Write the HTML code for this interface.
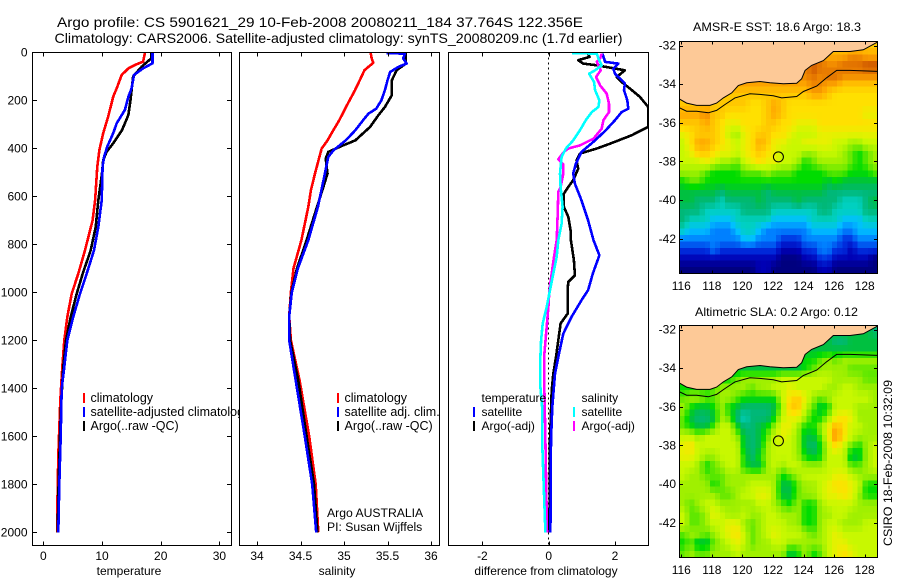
<!DOCTYPE html>
<html>
<head>
<meta charset="utf-8">
<title>Argo profile chart</title>
<style>
html,body{margin:0;padding:0;background:#fff;}
svg{display:block;}
text{font-family:"Liberation Sans",sans-serif;font-size:12px;fill:#000;}
text.lg{font-size:12.5px;}
text.note{font-size:12.2px;}
.frame{fill:none;stroke:#000;stroke-width:1;shape-rendering:crispEdges;}
.bar{shape-rendering:crispEdges;}
</style>
</head>
<body>
<svg id="chart" width="900" height="580" viewBox="0 0 900 580" xmlns="http://www.w3.org/2000/svg">
<defs>
<clipPath id="clip-temp"><rect x="32.5" y="52.5" width="199" height="493"/></clipPath>
<clipPath id="clip-sal"><rect x="239.5" y="52.5" width="200" height="493"/></clipPath>
<clipPath id="clip-diff"><rect x="448.5" y="52.5" width="200" height="493"/></clipPath>
<clipPath id="clip-sst"><rect x="679.5" y="41.5" width="198" height="232"/></clipPath>
<clipPath id="clip-sla"><rect x="679.5" y="325.5" width="198" height="232"/></clipPath>
</defs>
<rect x="0" y="0" width="900" height="580" fill="#fff"/>
<text x="57" y="27" style="font-size:14px" textLength="526" lengthAdjust="spacingAndGlyphs">Argo profile: CS 5901621_29 10-Feb-2008 20080211_184 37.764S 122.356E</text>
<text x="54.5" y="43" style="font-size:14px" textLength="568" lengthAdjust="spacingAndGlyphs">Climatology: CARS2006. Satellite-adjusted climatology: synTS_20080209.nc (1.7d earlier)</text>

<g id="panel-temp">
<rect x="32.5" y="52.5" width="199" height="493" fill="#fff"/>
<g id="temp-plot" clip-path="url(#clip-temp)"></g>
<g id="temp-axes"></g>
<rect class="frame" x="32.5" y="52.5" width="199" height="493"/>
<text x="129" y="575" text-anchor="middle">temperature</text>
<rect class="bar" x="83" y="393" width="2" height="10" fill="#ff0000"/>
<text class="lg" x="90.5" y="402">climatology</text>
<rect class="bar" x="83" y="407" width="2" height="10" fill="#0000ff"/>
<text class="lg" x="90.5" y="416">satellite-adjusted climatology</text>
<rect class="bar" x="83" y="421" width="2" height="10" fill="#000"/>
<text class="lg" x="90.5" y="430">Argo(..raw -QC)</text>
</g>

<g id="panel-sal">
<rect x="239.5" y="52.5" width="200" height="493" fill="#fff"/>
<g id="sal-plot" clip-path="url(#clip-sal)"></g>
<g id="sal-axes"></g>
<rect class="frame" x="239.5" y="52.5" width="200" height="493"/>
<text x="337" y="575" text-anchor="middle">salinity</text>
<rect class="bar" x="337" y="393" width="2" height="10" fill="#ff0000"/>
<text class="lg" x="344.5" y="402">climatology</text>
<rect class="bar" x="337" y="407" width="2" height="10" fill="#0000ff"/>
<text class="lg" x="344.5" y="416">satellite adj. clim.</text>
<rect class="bar" x="337" y="421" width="2" height="10" fill="#000"/>
<text class="lg" x="344.5" y="430">Argo(..raw -QC)</text>
<text class="note" x="327" y="517">Argo AUSTRALIA</text>
<text class="note" x="327" y="531">PI: Susan Wijffels</text>
</g>

<g id="panel-diff">
<rect x="448.5" y="52.5" width="200" height="493" fill="#fff"/>
<g id="diff-plot" clip-path="url(#clip-diff)"></g>
<g id="diff-axes"></g>
<rect class="frame" x="448.5" y="52.5" width="200" height="493"/>
<text x="546" y="575" text-anchor="middle">difference from climatology</text>
<text x="481.5" y="402">temperature</text>
<rect class="bar" x="473" y="407" width="2" height="10" fill="#0000ff"/>
<text x="481.5" y="416">satellite</text>
<rect class="bar" x="473" y="421" width="2" height="10" fill="#000"/>
<text x="481.5" y="430">Argo(-adj)</text>
<text x="581.5" y="402">salinity</text>
<rect class="bar" x="573" y="407" width="2" height="10" fill="#00ffff"/>
<text x="581.5" y="416">satellite</text>
<rect class="bar" x="573" y="421" width="2" height="10" fill="#ff00ff"/>
<text x="581.5" y="430">Argo(-adj)</text>
</g>

<text x="693" y="31" textLength="168" lengthAdjust="spacingAndGlyphs">AMSR-E SST: 18.6 Argo: 18.3</text>
<g id="map-sst"></g>
<text x="695" y="316" textLength="163" lengthAdjust="spacingAndGlyphs">Altimetric SLA: 0.2 Argo: 0.12</text>
<g id="map-sla"></g>
<text transform="translate(892,546) rotate(-90)" textLength="166" lengthAdjust="spacingAndGlyphs">CSIRO 18-Feb-2008 10:32:09</text>
</svg>

<script>
// ---------- Chart data ----------
const depthTicks = [0, 200, 400, 600, 800, 1000, 1200, 1400, 1600, 1800, 2000];
const tempTicks = [0, 10, 20, 30];
const salTicks = [34, 34.5, 35, 35.5, 36];
const salTickLabels = ['34', '34.5', '35', '35.5', '36'];
const diffTicks = [-2, 0, 2];
const lonTicks = [116, 118, 120, 122, 124, 126, 128];
const latTicks = [-32, -34, -36, -38, -40, -42];

const tempClimDepth = [3, 39, 53, 67, 94, 150, 185, 268, 337, 407, 476, 617, 700, 825, 922, 1006, 1103, 1200, 1311, 1450, 1680, 1900, 2000];
const tempClimValue = [17.3, 17.0, 15.6, 14.5, 13.35, 12.5, 11.9, 11.05, 10.2, 9.55, 9.2, 8.82, 8.4, 7.1, 5.97, 4.84, 4.09, 3.58, 3.24, 2.9, 2.56, 2.39, 2.4];
const tempArgoDepth = [3, 25, 60, 101, 199, 261, 296, 324, 379, 414, 449, 504, 617, 728, 825, 922, 1006, 1103, 1200, 1311, 1450, 1600, 1800, 2000];
const tempArgoValue = [18.4, 18.4, 16.75, 15.3, 14.85, 14.5, 13.9, 13.4, 11.9, 10.8, 10.2, 10.0, 9.37, 8.93, 8.07, 6.71, 5.69, 4.67, 3.87, 3.41, 3.07, 2.85, 2.6, 2.45];
const tempSatDepth = [3, 46, 67, 94, 150, 185, 240, 296, 337, 393, 435, 476, 617, 728, 825, 922, 1006, 1103, 1200, 1311, 1400, 1600, 1800, 2000];
const tempSatValue = [18.6, 18.6, 17.0, 15.45, 15.05, 14.5, 13.9, 12.5, 11.9, 10.9, 10.35, 10.1, 9.95, 9.37, 8.64, 7.39, 6.25, 5.1, 4.09, 3.58, 3.13, 2.96, 2.73, 2.56];

const salClimDepth = [3, 26, 44, 61, 75, 110, 158, 228, 283, 325, 367, 401, 436, 505, 575, 644, 783, 900, 1000, 1100, 1200, 1367, 1600, 1800, 2000];
const salClimValue = [35.307, 35.318, 35.337, 35.28, 35.234, 35.19, 35.126, 35.023, 34.946, 34.877, 34.81, 34.744, 34.717, 34.667, 34.62, 34.59, 34.51, 34.42, 34.39, 34.37, 34.39, 34.49, 34.6, 34.675, 34.705];
const salArgoDepth = [3, 47, 75, 117, 179, 228, 262, 311, 367, 388, 415, 443, 505, 575, 644, 783, 900, 1000, 1100, 1200, 1367, 1600, 1800, 2000];
const salArgoValue = [35.71, 35.71, 35.605, 35.55, 35.55, 35.47, 35.395, 35.30, 35.13, 34.99, 34.82, 34.79, 34.81, 34.75, 34.69, 34.57, 34.46, 34.395, 34.37, 34.38, 34.475, 34.57, 34.655, 34.695];
const salSatDepth = [3, 6, 26, 47, 61, 82, 117, 158, 200, 235, 256, 283, 325, 367, 408, 436, 470, 505, 575, 644, 783, 900, 1000, 1100, 1200, 1367, 1600, 1800, 2000];
const salSatValue = [35.49, 35.70, 35.68, 35.72, 35.625, 35.53, 35.50, 35.47, 35.43, 35.37, 35.28, 35.22, 35.13, 35.02, 34.88, 34.82, 34.80, 34.78, 34.74, 34.70, 34.59, 34.47, 34.40, 34.37, 34.37, 34.445, 34.55, 34.635, 34.68];

const diffTempArgoDepth = [6, 19, 33, 47, 54, 75, 103, 124, 151, 186, 228, 311, 346, 381, 401, 422, 450, 485, 533, 561, 589, 644, 686, 742, 783, 866, 929, 957, 991, 1089, 1130, 1200, 1269, 1339, 1408, 1616, 2000];
const diffTempArgoValue = [1.19, 1.23, 0.89, 1.04, 1.45, 2.30, 2.05, 2.20, 2.45, 2.75, 3.0, 3.0, 2.50, 1.85, 1.45, 0.94, 0.84, 0.89, 0.74, 0.59, 0.46, 0.46, 0.59, 0.66, 0.67, 0.76, 0.79, 0.59, 0.57, 0.57, 0.36, 0.29, 0.22, 0.14, 0.09, 0.04, 0.02];
const diffTempSatDepth = [6, 40, 47, 68, 89, 130, 158, 200, 235, 249, 283, 325, 367, 415, 464, 505, 547, 617, 700, 783, 846, 922, 991, 1033, 1102, 1172, 1269, 1339, 1477, 1616, 2000];
const diffTempSatValue = [1.62, 1.70, 2.10, 1.95, 2.0, 2.30, 2.27, 2.37, 2.40, 2.20, 2.0, 1.72, 1.40, 0.99, 0.82, 0.74, 0.79, 0.99, 1.19, 1.35, 1.53, 1.33, 1.19, 0.99, 0.69, 0.44, 0.29, 0.19, 0.11, 0.07, 0.05];
const diffSalSatDepth = [3, 6, 26, 54, 75, 89, 124, 158, 200, 228, 249, 283, 325, 367, 401, 436, 505, 561, 644, 714, 783, 852, 922, 991, 1061, 1130, 1200, 1269, 1394, 1477, 1616, 2000];
const diffSalSatValue = [0.71, 1.45, 1.50, 1.60, 1.40, 1.22, 1.37, 1.40, 1.53, 1.50, 1.30, 1.12, 0.94, 0.74, 0.52, 0.39, 0.34, 0.36, 0.42, 0.39, 0.29, 0.24, 0.14, 0.04, -0.06, -0.18, -0.23, -0.25, -0.25, -0.20, -0.20, -0.10];
const diffSalArgoDepth = [6, 26, 40, 75, 103, 138, 172, 214, 249, 283, 318, 360, 388, 401, 415, 446, 467, 505, 561, 582, 672, 783, 852, 922, 991, 1061, 1144, 1255, 1408, 1616, 2000];
const diffSalArgoValue = [1.60, 1.55, 1.45, 1.57, 1.43, 1.55, 1.75, 1.82, 1.82, 1.65, 1.60, 1.35, 0.94, 0.59, 0.46, 0.29, 0.44, 0.44, 0.36, 0.29, 0.27, 0.24, 0.16, 0.09, 0.02, -0.01, -0.06, -0.13, -0.13, -0.10, -0.05];

const coastLon = [115.7, 115.87, 116.35, 117.0, 117.88, 118.31, 118.75, 119.3, 119.73, 120.28, 121.15, 121.8, 122.68, 123.55, 123.88, 124.1, 124.53, 125.3, 125.95, 127.04, 127.91, 128.83, 129.1];
const coastLat = [-34.7, -34.76, -34.98, -35.1, -35.1, -34.98, -34.71, -34.45, -34.07, -33.93, -33.86, -33.93, -33.98, -33.95, -33.72, -33.29, -33.03, -32.78, -32.31, -32.31, -32.22, -31.83, -31.7];
const isobathLon = [115.87, 116.35, 117, 117.77, 118.31, 118.86, 119.51, 120.49, 121.15, 122.02, 122.57, 123.55, 123.99, 124.86, 125.51, 126.17, 127.04, 128.87];
const isobathLat = [-35.22, -35.4, -35.4, -35.48, -35.36, -35.05, -34.71, -34.5, -34.53, -34.6, -34.71, -34.64, -34.38, -34.1, -33.67, -33.29, -33.29, -33.34];
const profileLon = [122.356];
const profileLat = [-37.764];

// Colour scale levels, cool (0) to hot (18)
const heatColors = ['#00007f', '#0000b4', '#0030e0', '#0080ff', '#00c0ff', '#00d0c0', '#00b878', '#00c040', '#00dc00', '#60e800', '#a0f000', '#c8f800', '#e8f000', '#ffe000', '#ffc800', '#ffa800', '#f08800', '#e07000', '#c85000'];

const sstLevels = [
[14,14,14,14,14,14,14,14,14,14,14,14,14,14,14,14,14,14,14,14,14,14,14,14,14,14],
[15,15,15,15,15,15,15,15,15,15,15,15,15,15,15,15,15,15,15,15,15,15,16,16,15,15],
[16,16,16,16,16,16,16,16,16,16,16,16,16,16,16,16,16,18,17,16,16,17,17,17,18,18],
[16,16,16,16,16,16,16,16,16,16,16,16,16,16,16,16,16,17,16,17,17,16,16,16,16,16],
[15,15,15,15,15,15,15,15,15,15,15,15,15,15,15,15,15,16,16,15,15,14,14,14,14,14],
[14,14,14,14,14,14,14,14,14,14,14,14,14,14,14,14,14,15,15,14,13,13,13,13,13,13],
[14,14,14,14,14,14,14,14,14,13,13,14,15,14,13,13,13,13,13,13,13,13,13,13,13,13],
[15,15,15,16,14,14,13,13,13,13,13,14,15,14,13,13,13,13,13,13,13,13,13,13,12,12],
[14,14,14,15,14,13,12,12,13,13,13,14,14,13,13,12,12,12,13,13,13,13,13,13,13,13],
[12,13,14,14,14,13,11,10,12,13,14,14,13,13,12,11,11,11,12,12,12,12,12,12,12,12],
[11,13,15,15,14,13,12,11,12,13,15,14,12,12,11,11,12,12,12,12,11,11,10,10,11,11],
[11,12,14,14,13,12,12,11,12,13,14,13,12,11,11,11,10,10,11,11,11,10,9,8,9,10],
[11,11,11,12,11,10,10,9,11,12,13,12,12,11,11,10,8,9,10,10,10,10,9,8,9,10],
[10,10,10,9,8,8,8,8,9,9,9,10,9,9,9,8,8,8,8,9,9,9,8,8,8,9],
[8,9,9,8,8,8,8,8,8,8,8,8,8,8,8,8,8,8,8,7,8,7,7,7,7,7],
[7,7,7,7,7,6,7,7,7,7,7,6,7,7,7,7,7,7,7,6,6,6,6,6,6,6],
[7,7,6,6,6,5,6,6,6,6,7,6,6,6,6,7,6,6,6,6,6,5,5,5,6,7],
[6,6,6,5,5,5,5,5,6,6,6,6,5,5,5,5,5,5,6,6,5,5,5,5,6,6],
[6,5,5,5,4,4,4,5,5,5,5,5,4,4,4,4,4,5,5,5,5,4,4,4,5,5],
[5,4,4,4,3,3,3,4,5,5,4,3,3,3,3,3,3,4,4,4,4,3,3,4,4,4],
[3,3,3,3,3,3,3,3,4,4,3,3,3,2,2,2,3,3,3,3,3,2,2,3,3,3],
[2,2,2,2,3,2,2,2,2,2,2,2,2,1,1,1,2,2,3,3,2,2,1,2,2,2],
[1,1,1,1,1,1,1,1,1,1,1,1,1,0,0,0,1,1,2,2,1,1,1,1,1,0],
[0,0,0,0,0,0,0,0,0,0,1,1,0,0,0,0,0,0,1,1,0,0,0,0,0,0]
];

const slaLevels = [
[7,7,7,7,7,7,7,7,7,7,7,7,7,7,7,7,7,7,7,7,7,7,7,7,7,6],
[7,7,7,7,7,7,7,7,7,7,7,7,7,7,7,7,7,7,7,7,6,6,7,7,7,7],
[7,7,7,7,7,7,7,7,7,7,7,7,7,7,7,7,7,7,7,7,7,7,7,7,7,7],
[7,7,7,7,7,7,7,7,7,7,7,7,7,7,7,7,8,8,9,10,9,10,10,10,10,10],
[7,7,7,7,7,7,7,7,7,7,7,7,7,7,7,7,8,9,10,10,10,10,9,9,9,9],
[8,8,8,8,8,8,8,9,10,10,10,10,10,11,11,11,11,11,11,11,10,10,10,10,9,9],
[8,8,8,8,9,10,10,10,10,9,10,10,11,11,12,11,11,11,11,10,10,11,11,10,10,10],
[9,10,10,9,9,10,10,9,8,8,8,8,8,11,13,14,12,10,9,10,11,11,11,11,11,10],
[10,8,7,7,8,10,8,7,6,6,6,6,7,10,14,14,11,9,7,8,11,11,11,10,10,10],
[9,7,6,6,7,10,9,6,5,6,6,6,8,11,12,12,10,8,8,10,12,13,12,10,10,10],
[9,8,7,7,9,11,11,8,6,6,7,8,10,12,12,10,8,8,10,12,15,13,11,11,10,10],
[11,11,10,11,11,11,11,10,7,6,7,9,11,12,11,10,7,7,9,12,16,13,11,10,10,10],
[12,13,11,11,11,11,11,11,7,6,7,10,11,11,11,10,7,6,8,11,13,11,9,8,10,11],
[12,12,11,10,10,11,11,11,8,6,8,10,11,11,11,10,8,7,8,11,11,11,7,7,10,11],
[11,11,10,8,9,10,11,11,8,7,7,10,11,10,11,11,10,10,10,11,11,11,9,9,10,11],
[11,10,10,9,9,9,10,10,10,10,10,10,10,8,9,10,11,11,11,11,12,12,11,10,10,10],
[10,10,10,10,8,9,10,10,10,11,11,11,10,7,7,9,10,10,11,12,13,13,12,11,8,8],
[10,10,10,10,10,9,9,10,11,11,12,12,10,7,7,9,10,10,11,12,12,13,12,10,8,8],
[10,9,10,11,11,10,10,10,10,10,11,11,10,9,8,10,8,8,10,11,11,11,11,10,10,10],
[11,9,9,10,12,11,10,10,11,10,10,11,11,10,10,10,8,8,10,10,11,11,10,10,10,10],
[11,9,9,10,11,11,12,12,10,9,10,11,11,11,10,10,8,8,10,11,11,10,10,10,11,11],
[9,10,10,9,10,11,12,13,11,9,10,11,12,11,11,11,10,9,10,11,12,11,11,11,11,11],
[8,9,7,7,9,10,11,12,11,9,10,10,11,11,10,10,10,10,10,11,12,12,11,11,11,11],
[9,10,9,9,10,10,10,11,10,10,10,10,10,10,7,8,10,8,9,11,12,13,12,11,11,11]
];

// ---------- Axis functions ----------
const SVGNS = 'http://www.w3.org/2000/svg';
const PLOT_TOP = 52.5, PLOT_BOTTOM = 545.5;
function yDepth(d) { return 52.3 + d * 0.24; }
function xTemp(v) { return 43.3 + v * 5.87; }
function xSal(v) { return 257 + (v - 34) * 87; }
function xDiff(v) { return 548.7 + v * 33.15; }
function mapX(lon) { return 681.3 + (lon - 116) * 15.28; }
function mapY(lat, y32) { return y32 + (-32 - lat) * 19.33; }

function mk(tag, attrs, parent) {
  const el = document.createElementNS(SVGNS, tag);
  for (const k in attrs) el.setAttribute(k, attrs[k]);
  parent.appendChild(el);
  return el;
}
function drawCurve(parent, xs, ys, xFn, color, name) {
  const pts = xs.map(function (v, i) { return xFn(v).toFixed(1) + ',' + yDepth(ys[i]).toFixed(1); }).join(' ');
  const line = mk('polyline', { points: pts, fill: 'none', stroke: color, 'stroke-width': 2.6, 'stroke-linejoin': 'round', 'shape-rendering': 'crispEdges' }, parent);
  
  
}
function tickLine(parent, x1, y1, x2, y2, name) {
  const t = mk('line', { x1: x1, y1: y1, x2: x2, y2: y2, stroke: '#000', 'stroke-width': 1, 'shape-rendering': 'crispEdges' }, parent);
  
  
}
function tickText(parent, x, y, anchor, str, name) {
  const t = mk('text', { x: x, y: y, 'text-anchor': anchor }, parent);
  t.textContent = str;
  
  
}
function xTicks(parent, ticks, labels, xFn, name) {
  ticks.forEach(function (v, i) {
    const x = Math.round(xFn(v)) + 0.5;
    tickLine(parent, x, PLOT_TOP, x, PLOT_TOP + 4, name + '-tick-top');
    tickLine(parent, x, PLOT_BOTTOM, x, PLOT_BOTTOM - 4, name + '-tick-bottom');
    tickText(parent, xFn(v), 560, 'middle', labels[i], name + '-tick-label');
  });
}

// ---------- Temperature panel ----------
const tempPlot = document.getElementById('temp-plot');
const tempAxes = document.getElementById('temp-axes');
drawCurve(tempPlot, tempClimValue, tempClimDepth, xTemp, '#ff0000', 'temperature-climatology-line');
drawCurve(tempPlot, tempArgoValue, tempArgoDepth, xTemp, '#000000', 'temperature-argo-line');
drawCurve(tempPlot, tempSatValue, tempSatDepth, xTemp, '#0000ff', 'temperature-satellite-line');
xTicks(tempAxes, tempTicks, tempTicks.map(String), xTemp, 'temperature-axis');
depthTicks.forEach(function (d) {
  const y = Math.round(yDepth(d)) + 0.5;
  tickLine(tempAxes, 32.5, y, 37, y, 'depth-axis-tick-left');
  tickLine(tempAxes, 231.5, y, 227, y, 'depth-axis-tick-right');
  tickText(tempAxes, 27.5, yDepth(d) + 4, 'end', String(d), 'depth-axis-tick-label');
});

// ---------- Salinity panel ----------
const salPlot = document.getElementById('sal-plot');
const salAxes = document.getElementById('sal-axes');
drawCurve(salPlot, salClimValue, salClimDepth, xSal, '#ff0000', 'salinity-climatology-line');
drawCurve(salPlot, salArgoValue, salArgoDepth, xSal, '#000000', 'salinity-argo-line');
drawCurve(salPlot, salSatValue, salSatDepth, xSal, '#0000ff', 'salinity-satellite-line');
xTicks(salAxes, salTicks, salTickLabels, xSal, 'salinity-axis');

// ---------- Difference panel ----------
const diffPlot = document.getElementById('diff-plot');
const diffAxes = document.getElementById('diff-axes');
const zeroLine = mk('line', { x1: 548.5, y1: PLOT_TOP, x2: 548.5, y2: PLOT_BOTTOM, stroke: '#000', 'stroke-width': 1, 'stroke-dasharray': '2 3', 'shape-rendering': 'crispEdges' }, diffPlot);


drawCurve(diffPlot, diffTempArgoValue, diffTempArgoDepth, xDiff, '#000000', 'temperature-argo-difference-line');
drawCurve(diffPlot, diffTempSatValue, diffTempSatDepth, xDiff, '#0000ff', 'temperature-satellite-difference-line');
drawCurve(diffPlot, diffSalArgoValue, diffSalArgoDepth, xDiff, '#ff00ff', 'salinity-argo-difference-line');
drawCurve(diffPlot, diffSalSatValue, diffSalSatDepth, xDiff, '#00ffff', 'salinity-satellite-difference-line');
xTicks(diffAxes, diffTicks, diffTicks.map(String), xDiff, 'difference-axis');

// ---------- Maps ----------
// The level grids are half-degree; the map paints third-degree cells sampled from them.
const GRID_LON0 = 115.87, GRID_LAT0 = -31.8, GRID_STEP = 0.5;
const CELL_STEP = 1 / 3, CELL_COLS = 39, CELL_ROWS = 36;
function sampleLevel(levels, lon, lat) {
  const rows = levels.length, cols = levels[0].length;
  const u = Math.max(0, Math.min(cols - 1, (lon - GRID_LON0) / GRID_STEP - 0.5));
  const v = Math.max(0, Math.min(rows - 1, (GRID_LAT0 - lat) / GRID_STEP - 0.5));
  const i0 = Math.floor(u), j0 = Math.floor(v);
  const i1 = Math.min(cols - 1, i0 + 1), j1 = Math.min(rows - 1, j0 + 1);
  const fu = u - i0, fv = v - j0;
  return (levels[j0][i0] * (1 - fu) + levels[j0][i1] * fu) * (1 - fv) + (levels[j1][i0] * (1 - fu) + levels[j1][i1] * fu) * fv;
}
function hexChannel(hex, k) { return parseInt(hex.substr(1 + k * 2, 2), 16); }
function levelColor(level) {
  const t = Math.max(0, Math.min(heatColors.length - 1, level));
  const a = Math.floor(t), b = Math.min(heatColors.length - 1, a + 1), f = t - a;
  const c = [0, 1, 2].map(function (k) { return Math.round(hexChannel(heatColors[a], k) * (1 - f) + hexChannel(heatColors[b], k) * f); });
  return 'rgb(' + c.join(',') + ')';
}
function drawMap(group, levels, clipId, frameTop, frameH, y32, xLabelY, prefix) {
  const plot = mk('g', { 'clip-path': 'url(#' + clipId + ')' }, group);
  for (let j = 0; j < CELL_ROWS; j++) {
    for (let i = 0; i < CELL_COLS; i++) {
      const lon = GRID_LON0 + i * CELL_STEP;
      const lat = GRID_LAT0 - j * CELL_STEP;
      const level = sampleLevel(levels, lon + CELL_STEP / 2, lat - CELL_STEP / 2);
      const cell = mk('rect', { x: mapX(lon).toFixed(2), y: mapY(lat, y32).toFixed(2), width: (CELL_STEP * 15.28 + 0.6).toFixed(2), height: (CELL_STEP * 19.33 + 0.6).toFixed(2), fill: levelColor(level), 'shape-rendering': 'crispEdges' }, plot);
      
      
    }
  }
  const coastPts = coastLon.map(function (lon, i) { return mapX(lon).toFixed(1) + ',' + mapY(coastLat[i], y32).toFixed(1); });
  const land = mk('polygon', { points: coastPts.join(' ') + ' ' + mapX(129.1).toFixed(1) + ',' + (frameTop - 5) + ' ' + mapX(115.7).toFixed(1) + ',' + (frameTop - 5), fill: '#fdc997', stroke: 'none' }, plot);
  
  
  const coast = mk('polyline', { points: coastPts.join(' '), fill: 'none', stroke: '#000', 'stroke-width': 1 }, plot);
  
  
  const iso = mk('polyline', { points: isobathLon.map(function (lon, i) { return mapX(lon).toFixed(1) + ',' + mapY(isobathLat[i], y32).toFixed(1); }).join(' '), fill: 'none', stroke: '#000', 'stroke-width': 1 }, plot);
  
  
  const marker = mk('circle', { cx: mapX(profileLon[0]), cy: mapY(profileLat[0], y32), r: 5, fill: 'none', stroke: '#000', 'stroke-width': 1 }, plot);
  
  
  const frame = mk('rect', { x: 679.5, y: frameTop, width: 198, height: frameH, 'class': 'frame' }, group);
  
  
  lonTicks.forEach(function (lon) {
    const x = Math.round(mapX(lon)) + 0.5;
    tickLine(group, x, frameTop, x, frameTop + 3, prefix + '-longitude-tick-top');
    tickLine(group, x, frameTop + frameH, x, frameTop + frameH - 3, prefix + '-longitude-tick-bottom');
    tickText(group, mapX(lon), xLabelY, 'middle', String(lon), prefix + '-longitude-label');
  });
  latTicks.forEach(function (lat) {
    const y = Math.round(mapY(lat, y32)) + 0.5;
    tickLine(group, 679.5, y, 683, y, prefix + '-latitude-tick-left');
    tickLine(group, 877.5, y, 874, y, prefix + '-latitude-tick-right');
    tickText(group, 676, mapY(lat, y32) + 4, 'end', String(lat), prefix + '-latitude-label');
  });
}
drawMap(document.getElementById('map-sst'), sstLevels, 'clip-sst', 41.5, 232, 45.5, 290, 'sst');
drawMap(document.getElementById('map-sla'), slaLevels, 'clip-sla', 325.5, 232, 329.5, 574, 'sla');
</script>
</body>
</html>
